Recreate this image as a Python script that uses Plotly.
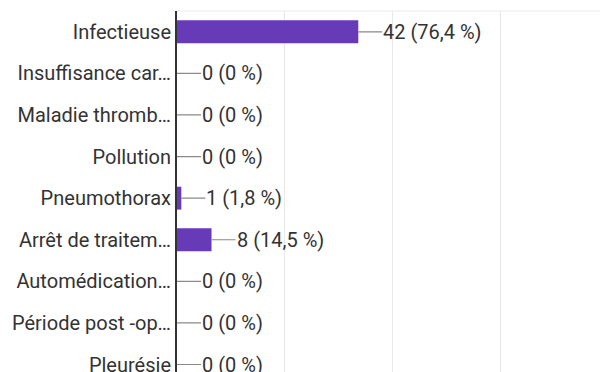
import plotly.graph_objects as go

categories = [
    "Infectieuse",
    "Insuffisance car…",
    "Maladie thromb…",
    "Pollution",
    "Pneumothorax",
    "Arrêt de traitem…",
    "Automédication…",
    "Période post -op…",
    "Pleurésie",
]
counts = [42, 0, 0, 0, 1, 8, 0, 0, 0]
percents = ["76,4", "0", "0", "0", "1,8", "14,5", "0", "0", "0"]
x_ticks = [0, 25, 50, 75, 100]

BAR = "#673ab7"
TEXT = "#333333"
FONT = "Roboto"
FS = 20

fig = go.Figure()
fig.add_trace(go.Bar(
    y=categories, x=counts, orientation="h",
    marker=dict(color=BAR, line=dict(width=0)),
    width=0.55, hoverinfo="skip",
))

for c, n, p in zip(categories, counts, percents):
    fig.add_annotation(
        x=n, y=c, xref="x", yref="y",
        text=f"{n} ({p} %)",
        showarrow=True, arrowhead=0, arrowwidth=1.2, arrowcolor="#8a8a8a",
        ax=24, ay=0, axref="pixel", ayref="pixel",
        xanchor="left", yanchor="middle",
        font=dict(family=FONT, size=FS, color=TEXT),
        borderpad=0, standoff=0,
    )

fig.add_shape(type="line", xref="paper", yref="paper", x0=0, x1=1, y0=1, y1=1,
              line=dict(color="#ececec", width=1))

fig.update_layout(
    width=600, height=372,
    margin=dict(l=177, r=0, t=11, b=0, autoexpand=False),
    paper_bgcolor="white", plot_bgcolor="white",
    showlegend=False,
    font=dict(family=FONT, size=FS, color=TEXT),
    xaxis=dict(range=[0, 98], tickvals=x_ticks, showticklabels=False,
               showgrid=True, gridcolor="#e8e8e8", gridwidth=1,
               zeroline=False, showline=False, fixedrange=True, automargin=False),
    yaxis=dict(range=[8.18, -0.5], showgrid=False, zeroline=False,
               showline=True, linecolor="#333333", linewidth=2,
               ticks="", ticklabelstandoff=0, automargin=False, fixedrange=True,
               tickfont=dict(family=FONT, size=FS, color=TEXT)),
)

fig.write_html(
    "out.html",
    config={"displayModeBar": False, "staticPlot": True},
    post_script="document.body.style.margin='0';document.body.style.overflow='hidden';",
)
